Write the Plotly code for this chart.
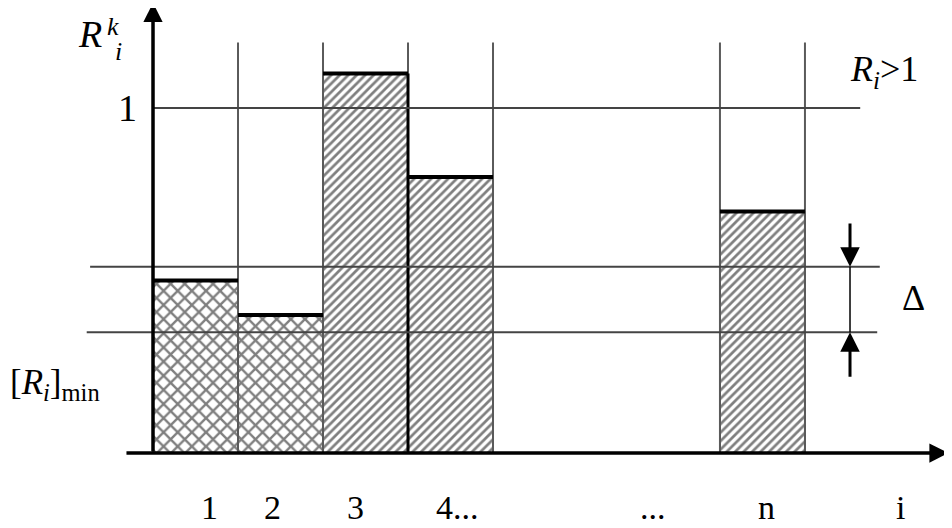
import plotly.graph_objects as go

# ---- data ----
bar_labels = ["1", "2", "3", "4...", "n"]
bar_values = [0.50, 0.40, 1.10, 0.80, 0.70]
bar_patterns = ["x", "x", "/", "/", "/"]
bar_pos = [0.5, 1.5, 2.5, 3.5, 7.17]
ref_one = 1.0          # level "1"
delta_upper = 0.54     # upper line of the Δ band
r_min = 0.35           # [R_i]min line
grid_x = [1, 2, 3, 4, 6.67, 7.67]
grid_top = 1.19

FONT = "Times New Roman, Liberation Serif, DejaVu Serif, serif"
BW = 1.0

fig = go.Figure()

# vertical guide lines
for gx in grid_x:
    fig.add_trace(go.Scatter(x=[gx, gx], y=[0, grid_top], mode="lines",
                             line=dict(color="#5a5a5a", width=2), hoverinfo="skip"))

# bars
fig.add_trace(go.Bar(
    x=bar_pos, y=bar_values, width=BW, base=0,
    marker=dict(color="white",
                line=dict(color="#666", width=2),
                pattern=dict(shape=bar_patterns, fgcolor="black", bgcolor="white",
                             size=[10, 10, 6, 6, 6], solidity=[0.42, 0.42, 0.45, 0.45, 0.45],
                             fillmode="overlay")),
    hoverinfo="skip"))

# dark boundary between bar 3 and bar 4
fig.add_trace(go.Scatter(x=[bar_pos[2] + BW / 2] * 2, y=[0, bar_values[2]], mode="lines",
                         line=dict(color="black", width=3), hoverinfo="skip"))

# horizontal reference lines
fig.add_trace(go.Scatter(x=[0, 8.32], y=[ref_one, ref_one], mode="lines",
                         line=dict(color="#444", width=2), hoverinfo="skip"))
fig.add_trace(go.Scatter(x=[-0.74, 8.55], y=[delta_upper, delta_upper], mode="lines",
                         line=dict(color="#444", width=2), hoverinfo="skip"))
fig.add_trace(go.Scatter(x=[-0.78, 8.52], y=[r_min, r_min], mode="lines",
                         line=dict(color="#444", width=2), hoverinfo="skip"))

# thick bar tops
for p, v in zip(bar_pos, bar_values):
    fig.add_trace(go.Scatter(x=[p - BW / 2, p + BW / 2], y=[v, v], mode="lines",
                             line=dict(color="black", width=4), hoverinfo="skip"))

# Δ connector line
fig.add_trace(go.Scatter(x=[8.2, 8.2], y=[r_min, delta_upper], mode="lines",
                         line=dict(color="black", width=1.5), hoverinfo="skip"))

annotations = []
# axes arrows
annotations.append(dict(x=9.36, y=0, ax=-0.33, ay=0, xref="x", yref="y", axref="x", ayref="y",
                        showarrow=True, arrowhead=2, arrowsize=1.1, arrowwidth=3.5,
                        arrowcolor="black", text=""))
annotations.append(dict(x=0, y=1.305, ax=0, ay=0, xref="x", yref="y", axref="x", ayref="y",
                        showarrow=True, arrowhead=2, arrowsize=1.1, arrowwidth=3.5,
                        arrowcolor="black", text=""))
# Δ arrows
annotations.append(dict(x=8.2, y=delta_upper, ax=8.2, ay=0.67, xref="x", yref="y", axref="x", ayref="y",
                        showarrow=True, arrowhead=2, arrowsize=1.3, arrowwidth=3,
                        arrowcolor="black", text=""))
annotations.append(dict(x=8.2, y=r_min, ax=8.2, ay=0.217, xref="x", yref="y", axref="x", ayref="y",
                        showarrow=True, arrowhead=2, arrowsize=1.3, arrowwidth=3,
                        arrowcolor="black", text=""))

def txt(x, y, s, size=34, xanchor="center"):
    annotations.append(dict(x=x, y=y, xref="x", yref="y", text=s, showarrow=False,
                            xanchor=xanchor, yanchor="middle",
                            font=dict(family=FONT, size=size, color="black")))

# axis titles / labels
txt(-0.74, 1.215, "<i>R</i>", 38)
txt(-0.47, 1.235, "<i>k</i>", 26)
txt(-0.41, 1.165, "<i>i</i>", 26)
txt(-0.30, ref_one, "1", 38)
txt(-1.15, 0.20, "[<i>R</i><sub><i>i</i></sub>]<sub>min</sub>", 35)
txt(8.6, 1.105, "<i>R</i><sub><i>i</i></sub>&gt;1", 36)
txt(8.95, 0.45, "Δ", 36)

# category labels under the axis
label_x = [0.66, 1.40, 2.38, 3.58, 7.22]
for lx, lab in zip(label_x, bar_labels):
    txt(lx, -0.158, lab, 34)
txt(5.88, -0.158, "...", 34)
txt(8.79, -0.158, "i", 34)

# the page body adds an 8px offset; ranges are shifted so marks land where the reference has them
fig.update_layout(
    width=952, height=528,
    margin=dict(l=0, r=0, t=0, b=0),
    paper_bgcolor="white", plot_bgcolor="white",
    showlegend=False, bargap=0,
    xaxis=dict(range=[-1.706, 9.494], visible=False, fixedrange=True),
    yaxis=dict(range=[-0.2406, 1.290], visible=False, fixedrange=True),
    annotations=annotations,
    hovermode=False,
)

fig.write_html("out.html")
